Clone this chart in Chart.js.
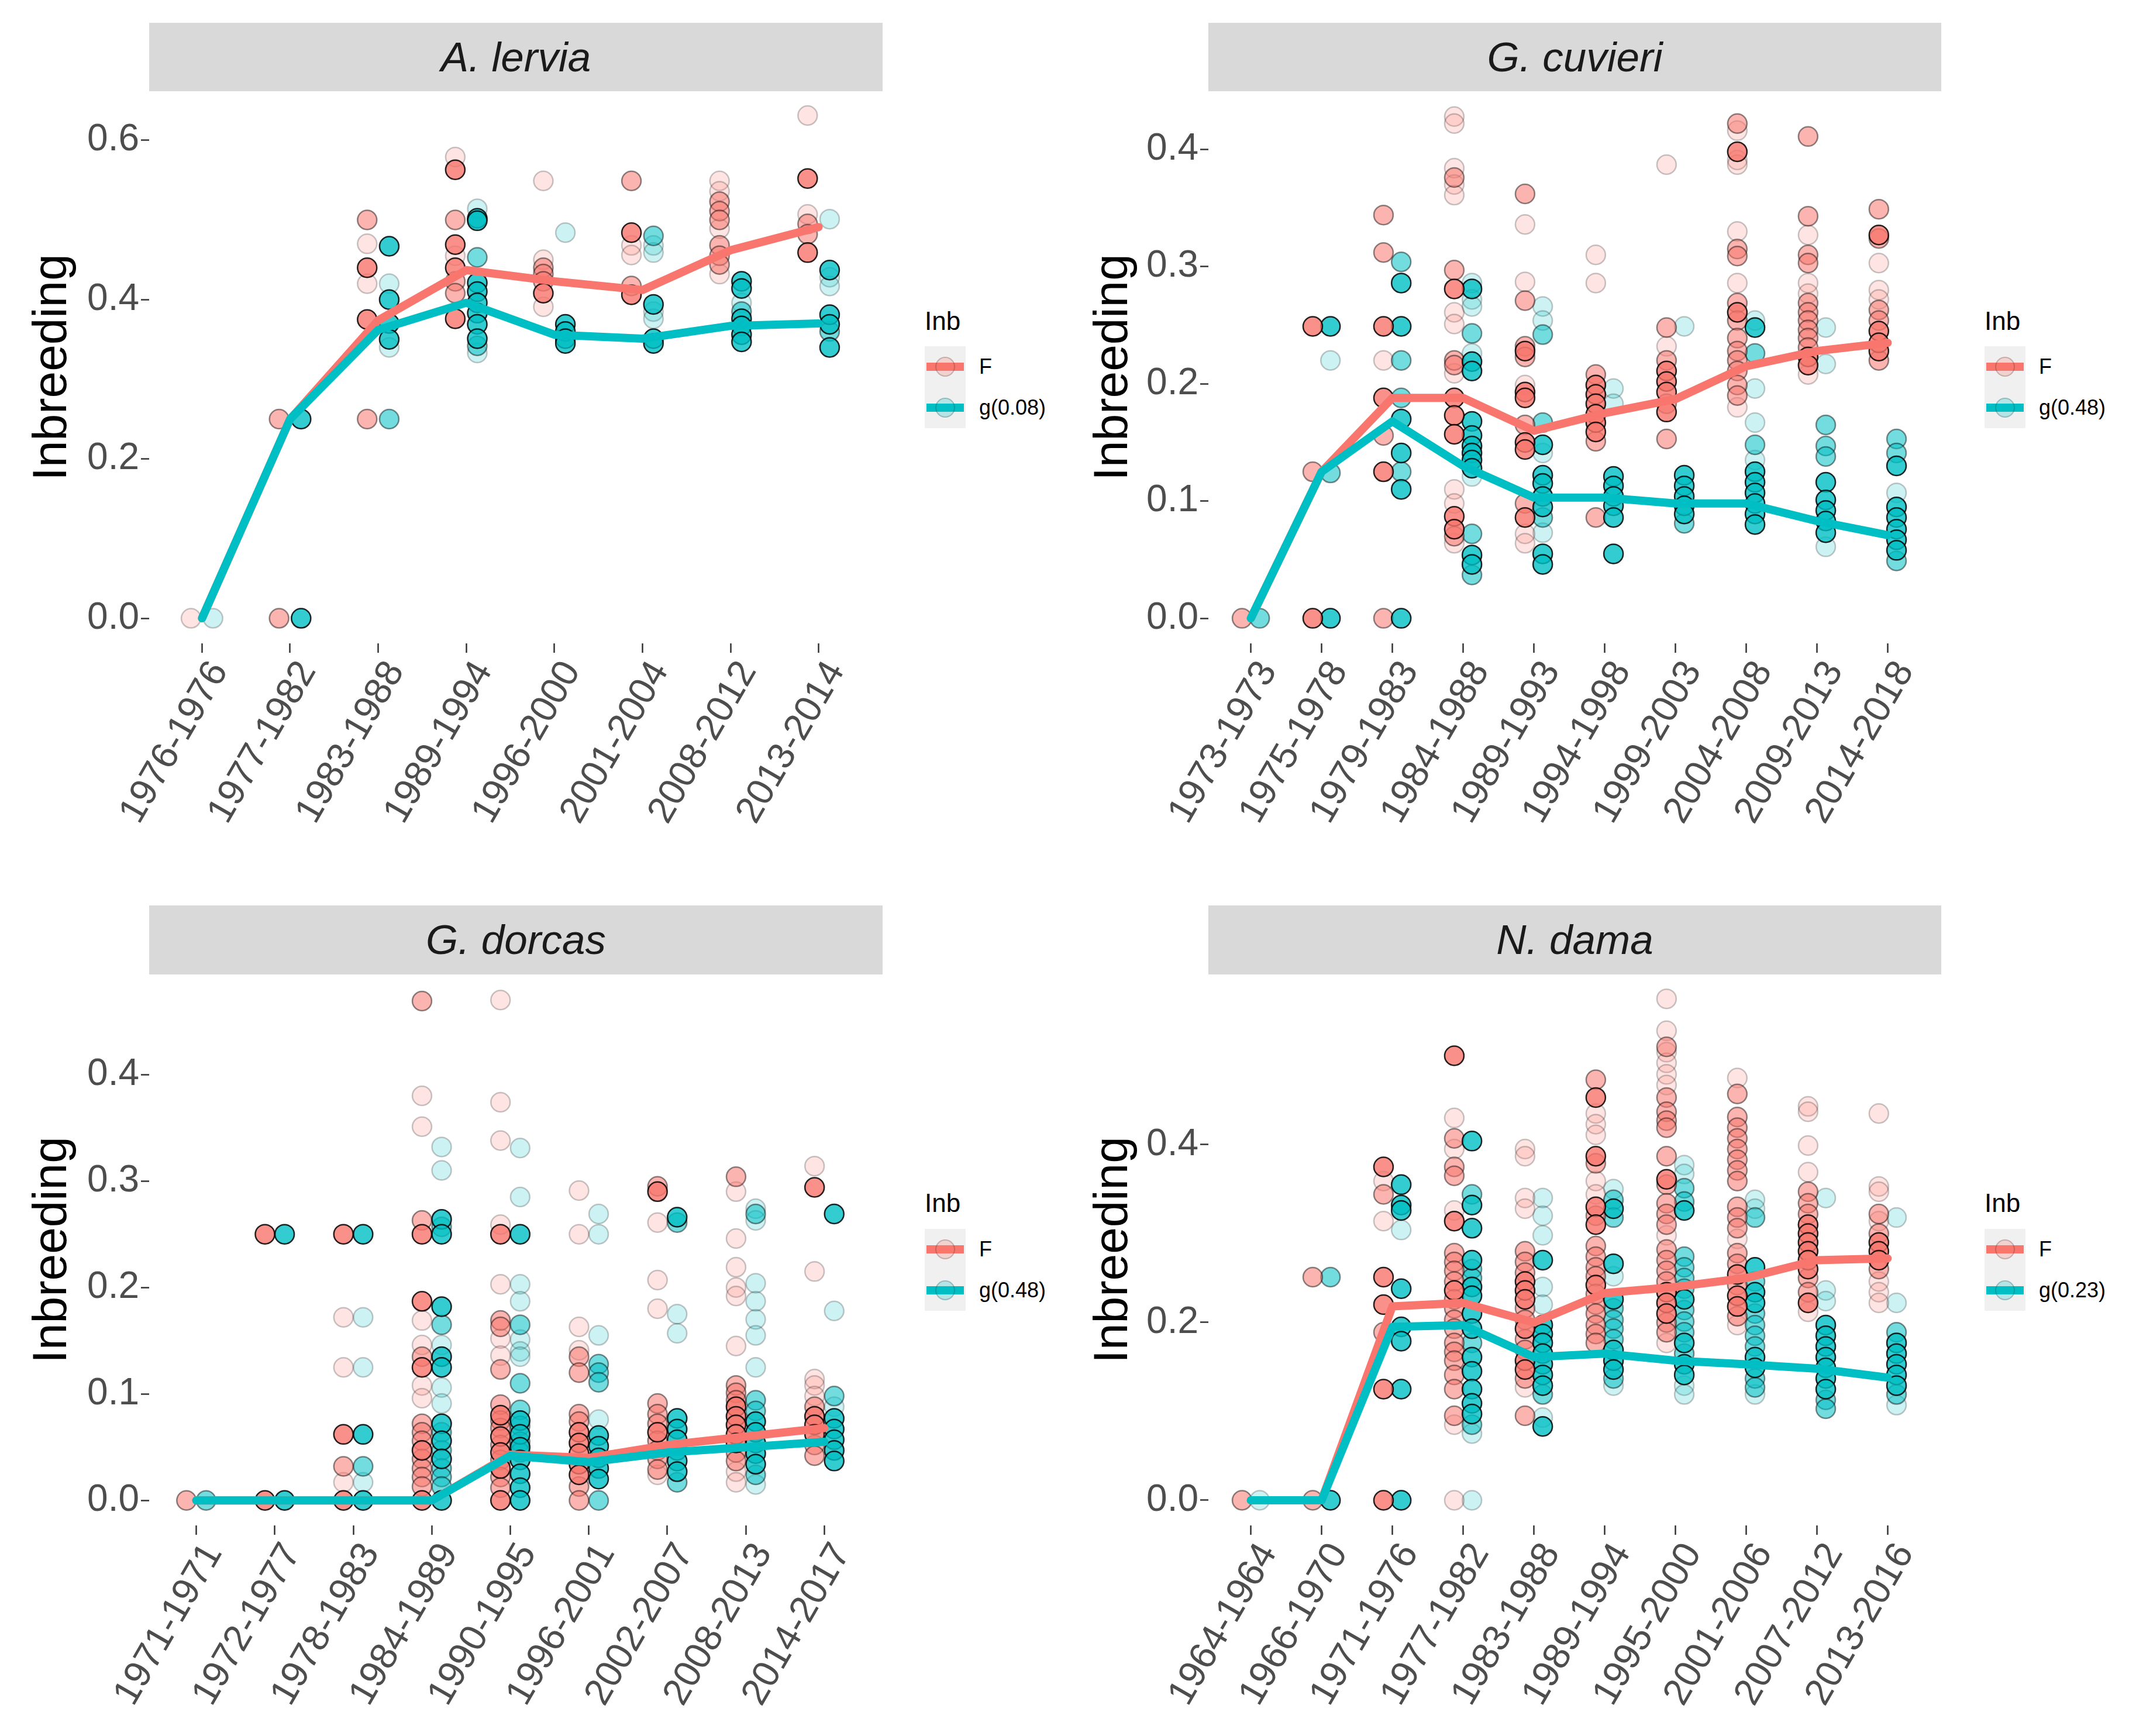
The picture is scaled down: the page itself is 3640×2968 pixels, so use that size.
<!DOCTYPE html>
<html>
<head>
<meta charset="utf-8">
<script src="https://cdn.jsdelivr.net/npm/chart.js@4.4.0/dist/chart.umd.min.js"></script>
<style>
  body { margin:0; background:#fff; }
  #page { position:relative; width:3640px; height:2968px; background:#fff; font-family:"Liberation Sans", Arial, sans-serif; }
  canvas { position:absolute; }
  .strip { position:absolute; background:#d9d9d9; color:#1a1a1a; font-style:italic; font-size:71px; text-align:center; }
  .ltitle { position:absolute; font-size:44px; color:#000; line-height:52px; }
  .key { position:absolute; width:70px; height:70px; background:#f0f0f0; }
  .key .bar { position:absolute; left:3px; right:3px; top:28px; height:14px; }
  .key .dot { position:absolute; left:18px; top:18px; width:30px; height:30px; border-radius:50%; }
  .llab { position:absolute; font-size:36px; color:#000; line-height:70px; }
</style>
</head>
<body>
<div id="page"></div>
<script>
// ---- A. lervia ----
const lerviaCats = ["1976-1976","1977-1982","1983-1988","1989-1994","1996-2000","2001-2004","2008-2012","2013-2014"];
const lerviaF_strong = [[],[],[0.44,0.375],[0.563,0.469,0.44,0.376],[0.408],[0.484,0.406],[],[0.552,0.459]];
const lerviaF_mid = [[],[0.25,0],[0.5,0.25],[0.5,0.423,0.408],[0.44,0.432,0.423],[0.549,0.417],[0.523,0.511,0.5,0.468,0.455,0.444],[0.495,0.482]];
const lerviaF_faint = [[0],[],[0.47,0.42],[0.579,0.455],[0.549,0.45,0.391],[0.468,0.456],[0.549,0.536,0.489,0.432],[0.631,0.507]];
const lerviaG_strong = [[],[0.25,0],[0.467,0.4,0.37,0.35],[0.502,0.499,0.421,0.41,0.396,0.383,0.369,0.351],[0.369,0.36,0.351,0.345],[0.394,0.351,0.345],[0.423,0.414,0.376,0.367,0.356,0.347],[0.437,0.381,0.369,0.34]];
const lerviaG_mid = [[],[],[0.25],[0.453,0.342],[],[0.48],[0.385],[0.36]];
const lerviaG_faint = [[0],[],[0.42,0.34],[0.514,0.333],[0.484],[0.468,0.459,0.385,0.376],[0.396],[0.501,0.428,0.417]];
const lerviaF_line = [0,0.25,0.374,0.437,0.423,0.412,0.462,0.491];
const lerviaG_line = [0,0.25,0.362,0.396,0.356,0.351,0.367,0.37];
const lerviaYTicks = [0,0.2,0.4,0.6];

// ---- G. cuvieri ----
const cuvieriCats = ["1973-1973","1975-1978","1979-1983","1984-1988","1989-1993","1994-1998","1999-2003","2004-2008","2009-2013","2014-2018"];
const cuvieriF_strong = [[],[0.249,0],[0.249,0.188,0.125],[0.281,0.188,0.173,0.157,0.087,0.076],[0.228,0.193,0.188,0.15,0.144,0.086],[0.199,0.191,0.183,0.174,0.167,0.159],[0.211,0.202,0.193,0.176],[0.398,0.261],[0.223,0.216],[0.327,0.245,0.235,0.228]];
const cuvieriF_mid = [[0],[0.125],[0.344,0.312,0.156,0],[0.376,0.297,0.22,0.216,0.07],[0.362,0.271,0.232,0.223,0.165,0.098],[0.208,0.151,0.086],[0.248,0.22,0.183,0.153],[0.422,0.315,0.309,0.269,0.254,0.239,0.228,0.22,0.211,0.199,0.19],[0.411,0.343,0.31,0.303,0.269,0.261,0.254,0.246,0.239,0.231],[0.349,0.324,0.263,0.254,0.22]];
const cuvieriF_faint = [[],[],[0.22],[0.428,0.422,0.384,0.37,0.361,0.261,0.251,0.209,0.11,0.098,0.064],[0.336,0.287,0.199,0.072,0.064],[0.31,0.286],[0.387,0.232],[0.416,0.391,0.387,0.33,0.286,0.18],[0.327,0.286,0.277,0.208],[0.303,0.28,0.272]];
const cuvieriG_strong = [[],[0.249,0],[0.286,0.249,0.17,0.141,0.11,0],[0.281,0.219,0.211,0.168,0.156,0.147,0.141,0.135,0.128,0.054,0.046],[0.148,0.122,0.115,0.104,0.095,0.055,0.046],[0.121,0.113,0.104,0.096,0.086,0.055],[0.122,0.113,0.104,0.096,0.089],[0.248,0.125,0.116,0.107,0.098,0.089,0.08],[0.116,0.101,0.092,0.083,0.073],[0.13,0.095,0.086,0.076,0.067,0.058]];
const cuvieriG_mid = [[0],[0.124],[0.304,0.22,0.188,0.125],[0.243,0.072,0.037],[0.242,0.167,0.086],[],[0.081],[0.226,0.148],[0.165,0.147,0.138],[0.153,0.141,0.049]];
const cuvieriG_faint = [[],[0.22],[],[0.286,0.272,0.266,0.226,0.121],[0.266,0.254,0.141,0.073],[0.196,0.183],[0.249],[0.254,0.196,0.167,0.135],[0.248,0.217,0.061],[0.107]];
const cuvieriF_line = [0,0.125,0.188,0.188,0.16,0.175,0.187,0.215,0.228,0.235];
const cuvieriG_line = [0,0.125,0.168,0.13,0.103,0.103,0.098,0.098,0.083,0.071];
const cuvieriYTicks = [0,0.1,0.2,0.3,0.4];

// ---- G. dorcas ----
const dorcasCats = ["1971-1971","1972-1977","1978-1983","1984-1989","1990-1995","1996-2001","2002-2007","2008-2013","2014-2017"];
const dorcasF_strong = [[],[0.25,0],[0.25,0.062,0],[0.25,0.187,0.125,0.047,0],[0.25,0.08,0.06,0.045,0.03,0],[0.064,0.054,0.044,0.034,0.024],[0.29,0.064],[0.088,0.079,0.071,0.062,0.054],[0.294,0.079,0.071,0.062]];
const dorcasF_mid = [[0],[],[0.032],[0.469,0.263,0.135,0.072,0.064,0.056,0.039,0.03,0.022,0.013],[0.169,0.163,0.123,0.09,0.075,0.068,0.052,0.038,0.022,0.012],[0.135,0.12,0.081,0.074,0.013,0],[0.295,0.091,0.081,0.072,0.056,0.047,0.039,0.029],[0.304,0.108,0.101,0.094,0.045,0.037],[0.088,0.052,0.042]];
const dorcasF_faint = [[],[],[0.172,0.125,0.017],[0.38,0.351,0.169,0.146,0.108,0.096],[0.47,0.374,0.338,0.259,0.203,0.152,0.136],[0.291,0.25,0.163,0.141],[0.261,0.207,0.18,0.024],[0.29,0.246,0.219,0.2,0.192,0.145,0.027,0.017],[0.314,0.215,0.114,0.108,0.098]];
const dorcasG_strong = [[],[0.25,0],[0.25,0.062,0],[0.264,0.25,0.182,0.135,0.125,0.072,0.056,0.039,0],[0.25,0.075,0.062,0.05,0.038,0.025,0.012,0],[0.061,0.051,0.04,0.03,0.02],[0.266,0.077,0.067,0.057,0.047,0.037,0.027],[0.074,0.064,0.054,0.044,0.034],[0.269,0.077,0.067,0.057,0.047,0.037]];
const dorcasG_mid = [[0],[],[0.032],[0.257,0.165,0.064,0.047,0.03,0.022,0.013],[0.165,0.11,0.085,0.07,0.055,0.045],[0.128,0.12,0.111,0],[0.261,0.017],[0.269,0.094,0.084,0.024],[0.098]];
const dorcasG_faint = [[],[],[0.172,0.125,0.017],[0.332,0.31,0.146,0.106,0.091],[0.331,0.285,0.203,0.187,0.151,0.14,0.135],[0.269,0.25,0.155,0.076],[0.175,0.157],[0.274,0.263,0.204,0.187,0.17,0.155,0.125,0.015],[0.178,0.088]];
const dorcasF_line = [0,0,0,0,0.043,0.04,0.052,0.06,0.068];
const dorcasG_line = [0,0,0,0,0.042,0.036,0.045,0.05,0.055];
const dorcasYTicks = [0,0.1,0.2,0.3,0.4];

// ---- N. dama ----
const damaCats = ["1964-1964","1966-1970","1971-1976","1977-1982","1983-1988","1989-1994","1995-2000","2001-2006","2007-2012","2013-2016"];
const damaF_strong = [[],[],[0.375,0.251,0.22,0.125,0],[0.5,0.314,0.236],[0.246,0.236,0.226,0.193,0.157,0.147],[0.453,0.387,0.33,0.31,0.242],[0.361,0.234,0.222,0.21],[0.254,0.23,0.218],[0.31,0.3,0.29,0.28,0.27,0.26,0.222],[0.29,0.28,0.27]];
const damaF_mid = [[0],[0.251,0],[0.344,0.189],[0.407,0.375,0.365,0.278,0.268,0.258,0.246,0.226,0.216,0.203,0.193,0.177,0.167,0.157,0.141,0.125,0.095],[0.28,0.268,0.256,0.216,0.203,0.181,0.169,0.137,0.095],[0.473,0.379,0.32,0.286,0.274,0.262,0.252,0.232,0.22,0.21,0.197,0.187,0.177],[0.51,0.453,0.437,0.427,0.419,0.387,0.355,0.334,0.322,0.31,0.282,0.27,0.258,0.246,0.2,0.189],[0.457,0.431,0.419,0.407,0.395,0.383,0.371,0.359,0.33,0.318,0.306,0.278,0.266,0.242,0.207],[0.347,0.334,0.322,0.25,0.234],[0.322,0.3,0.26]];
const damaF_faint = [[],[],[0.359,0.314],[0.43,0.395,0.326,0.085,0],[0.395,0.387,0.34,0.328,0.127],[0.435,0.423,0.411,0.359,0.344],[0.564,0.528,0.504,0.492,0.479,0.467,0.298,0.177],[0.475,0.294,0.197],[0.443,0.437,0.399,0.369,0.212],[0.435,0.353,0.347,0.314,0.246,0.234,0.222]];
const damaG_strong = [[],[0],[0.355,0.332,0.326,0.238,0.195,0.179,0.125,0],[0.404,0.332,0.306,0.27,0.24,0.23,0.21,0.193,0.161,0.145,0.125,0.109,0.097],[0.27,0.197,0.187,0.177,0.165,0.153,0.141,0.129,0.083],[0.328,0.266,0.226,0.169,0.157,0.147],[0.326,0.226,0.177,0.153,0.141],[0.262,0.234,0.222,0.161,0.149],[0.197,0.185,0.173,0.161,0.149,0.137,0.125],[0.177,0.165,0.153,0.141,0.129]];
const damaG_mid = [[],[0.251],[],[0.344,0.26,0.25,0.177,0.085],[0.119],[0.338,0.318,0.216,0.203,0.193,0.181,0.137],[0.351,0.336,0.274,0.262,0.25,0.238,0.214,0.201,0.189,0.165],[0.318,0.246,0.21,0.197,0.185,0.173,0.137,0.127],[0.113,0.103],[0.189,0.119]];
const damaG_faint = [[0],[],[0.304],[0.075,0],[0.34,0.32,0.298,0.24,0.22,0.093],[0.35,0.252,0.129],[0.377,0.367,0.129,0.119],[0.338,0.328,0.119],[0.34,0.236,0.224],[0.318,0.222,0.107]];
const damaF_line = [0,0,0.218,0.222,0.2,0.233,0.24,0.25,0.27,0.272];
const damaG_line = [0,0,0.195,0.197,0.161,0.165,0.157,0.153,0.148,0.138];
const damaYTicks = [0,0.2,0.4];

const titles = ["A. lervia","G. cuvieri","G. dorcas","N. dama"];
const legendG = ["g(0.08)","g(0.48)","g(0.48)","g(0.23)"];

const colF = [248,118,109];
const colG = [0,191,196];
const rgba = (c, a) => `rgba(${c[0]},${c[1]},${c[2]},${a})`;
const levels = { strong:[0.8,0.85], mid:[0.55,0.45], faint:[0.2,0.22] };
const dodge = 0.125;
const topPad = 80;

const page = document.getElementById("page");

function pts(lists, dx) {
  const out = [];
  lists.forEach((vals, i) => vals.forEach(v => out.push({x: i + dx, y: v})));
  return out;
}

function scatterSet(lists, dx, col, lev, order) {
  const [fa, ba] = levels[lev];
  return {
    type: "scatter",
    data: pts(lists, dx),
    pointRadius: 16.5,
    pointBorderWidth: 2.5,
    pointBackgroundColor: rgba(col, fa),
    pointBorderColor: rgba([0,0,0], ba),
    order: order
  };
}

function lineSet(vals, col, order) {
  return {
    type: "line",
    data: vals.map((v, i) => ({x: i, y: v})),
    borderColor: rgba(col, 1),
    borderWidth: 14,
    borderCapStyle: "round",
    borderJoinStyle: "round",
    pointRadius: 0,
    tension: 0,
    order: order
  };
}

function panel(p) {
  const cv = document.createElement("canvas");
  const top = p.top - topPad, h = p.h + topPad;
  cv.width = p.w; cv.height = h;
  cv.style.left = p.left + "px"; cv.style.top = top + "px";
  cv.style.width = p.w + "px"; cv.style.height = h + "px";
  page.appendChild(cv);

  const n = p.cats.length;
  new Chart(cv, {
    type: "scatter",
    data: {
      datasets: [
        lineSet(p.gLine, colG, 0),
        lineSet(p.fLine, colF, 1),
        scatterSet(p.F[0], -dodge, colF, "strong", 2),
        scatterSet(p.G[0], dodge, colG, "strong", 3),
        scatterSet(p.F[1], -dodge, colF, "mid", 4),
        scatterSet(p.G[1], dodge, colG, "mid", 5),
        scatterSet(p.F[2], -dodge, colF, "faint", 6),
        scatterSet(p.G[2], dodge, colG, "faint", 7)
      ]
    },
    options: {
      responsive: false,
      animation: false,
      devicePixelRatio: 1,
      layout: { padding: { top: topPad, left: 0, right: 0, bottom: 0 } },
      plugins: { legend: { display: false }, tooltip: { enabled: false } },
      scales: {
        x: {
          type: "linear",
          min: -0.6,
          max: n - 0.4,
          afterBuildTicks: ax => { ax.ticks = p.cats.map((c, i) => ({value: i})); },
          afterFit: s => { s.height = p.xh; },
          ticks: {
            callback: v => p.cats[v],
            autoSkip: false,
            minRotation: 60,
            maxRotation: 60,
            padding: 2,
            labelOffset: 30,
            color: "#4d4d4d",
            font: { family: "Liberation Sans", size: 64 }
          },
          grid: { drawOnChartArea: false, drawTicks: true, tickLength: 16, tickColor: "#333333", tickWidth: 2.5 },
          border: { display: false }
        },
        y: {
          type: "linear",
          min: p.ymin,
          max: p.ymax,
          afterBuildTicks: ax => { ax.ticks = p.yTicks.map(v => ({value: v})); },
          afterFit: s => { s.width = p.yw; },
          ticks: {
            callback: v => v.toFixed(1),
            padding: 3,
            color: "#4d4d4d",
            font: { family: "Liberation Sans", size: 64 }
          },
          grid: { drawOnChartArea: false, drawTicks: true, tickLength: 14, tickColor: "#333333", tickWidth: 2.5 },
          border: { display: false },
          title: {
            display: true,
            text: "Inbreeding",
            color: "#000",
            font: { family: "Liberation Sans", size: 82 },
            padding: { top: p.titlePad, bottom: 0 }
          }
        }
      }
    }
  });

  const strip = document.createElement("div");
  strip.className = "strip";
  strip.style.left = p.stripX + "px"; strip.style.top = p.stripY + "px";
  strip.style.width = p.stripW + "px"; strip.style.height = p.stripH + "px";
  strip.style.lineHeight = p.stripH + "px";
  strip.textContent = p.title;
  page.appendChild(strip);

  const t = document.createElement("div");
  t.className = "ltitle";
  t.style.left = p.lx + "px"; t.style.top = (p.ly - 26) + "px";
  t.textContent = "Inb";
  page.appendChild(t);

  [["F", colF], [p.gLabel, colG]].forEach(([lab, col], k) => {
    const key = document.createElement("div");
    key.className = "key";
    key.style.left = p.lx + "px"; key.style.top = (p.ky + k * 70) + "px";
    key.innerHTML = `<div class="bar" style="background:${rgba(col,1)}"></div>` +
      `<div class="dot" style="background:${rgba(col,0.25)};border:2px solid rgba(0,0,0,0.18)"></div>`;
    page.appendChild(key);
    const l = document.createElement("div");
    l.className = "llab";
    l.style.left = (p.lx + 93) + "px"; l.style.top = (p.ky + k * 70) + "px";
    l.textContent = lab;
    page.appendChild(l);
  });
}

panel({ cats: lerviaCats, F: [lerviaF_strong, lerviaF_mid, lerviaF_faint], G: [lerviaG_strong, lerviaG_mid, lerviaG_faint],
  fLine: lerviaF_line, gLine: lerviaG_line, yTicks: lerviaYTicks, ymin: -0.0315, ymax: 0.6615,
  left: 0, top: 156, w: 1509, h: 1328, yw: 255, xh: 384, titlePad: 41,
  title: titles[0], stripX: 255, stripY: 39, stripW: 1254, stripH: 117,
  lx: 1581, ly: 549, ky: 592, gLabel: legendG[0] });

panel({ cats: cuvieriCats, F: [cuvieriF_strong, cuvieriF_mid, cuvieriF_faint], G: [cuvieriG_strong, cuvieriG_mid, cuvieriG_faint],
  fLine: cuvieriF_line, gLine: cuvieriG_line, yTicks: cuvieriYTicks, ymin: -0.0214, ymax: 0.4496,
  left: 1820, top: 156, w: 1499, h: 1328, yw: 246, xh: 384, titlePad: 35,
  title: titles[1], stripX: 2066, stripY: 39, stripW: 1253, stripH: 117,
  lx: 3393, ly: 549, ky: 592, gLabel: legendG[1] });

panel({ cats: dorcasCats, F: [dorcasF_strong, dorcasF_mid, dorcasF_faint], G: [dorcasG_strong, dorcasG_mid, dorcasG_faint],
  fLine: dorcasF_line, gLine: dorcasG_line, yTicks: dorcasYTicks, ymin: -0.0235, ymax: 0.494,
  left: 0, top: 1666, w: 1509, h: 1302, yw: 255, xh: 360, titlePad: 41,
  title: titles[2], stripX: 255, stripY: 1548, stripW: 1254, stripH: 118,
  lx: 1581, ly: 2057, ky: 2101, gLabel: legendG[2] });

panel({ cats: damaCats, F: [damaF_strong, damaF_mid, damaF_faint], G: [damaG_strong, damaG_mid, damaG_faint],
  fLine: damaF_line, gLine: damaG_line, yTicks: damaYTicks, ymin: -0.0283, ymax: 0.5914,
  left: 1820, top: 1666, w: 1499, h: 1302, yw: 246, xh: 360, titlePad: 35,
  title: titles[3], stripX: 2066, stripY: 1548, stripW: 1253, stripH: 118,
  lx: 3393, ly: 2057, ky: 2101, gLabel: legendG[3] });
</script>
</body>
</html>
